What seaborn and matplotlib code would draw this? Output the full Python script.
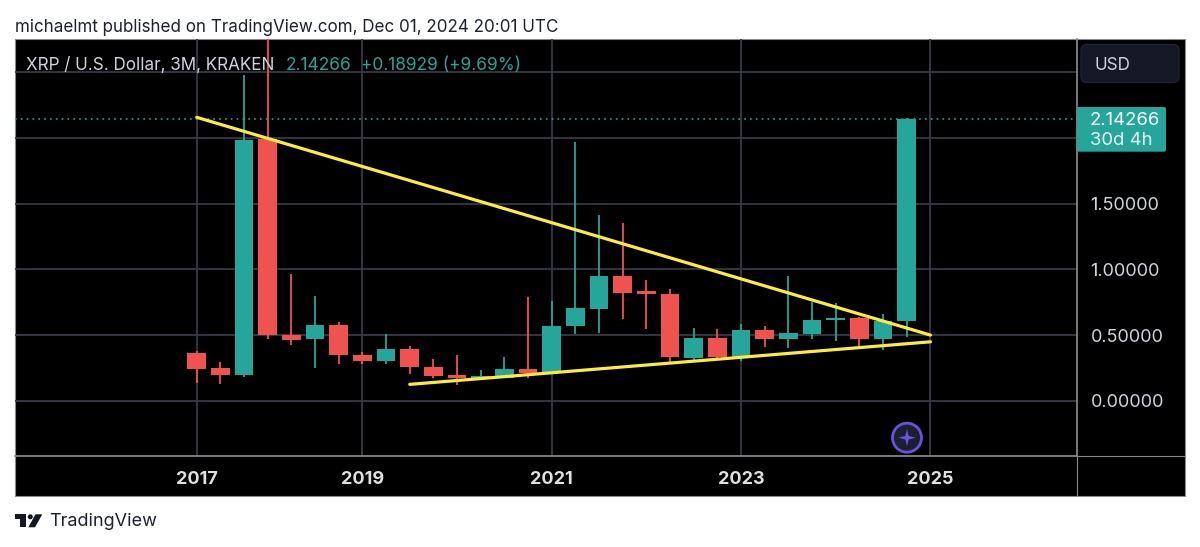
import numpy as np
import pandas as pd
import matplotlib
matplotlib.use("Agg")
import matplotlib.pyplot as plt
import seaborn as sns
from matplotlib.patches import Rectangle, FancyBboxPatch, Circle, Polygon

# candles, one per quarter-ish slot on TradingView's index axis
opens = [0.360, 0.249, 0.198, 1.989, 0.497, 0.467, 0.578, 0.345, 0.304, 0.391, 0.256,
         0.193, 0.175, 0.175, 0.241, 0.222, 0.568, 0.700, 0.951, 0.832, 0.812,
         0.327, 0.477, 0.337, 0.538, 0.469, 0.512, 0.614, 0.629, 0.472, 0.609]
closes = [0.244, 0.198, 1.984, 0.497, 0.464, 0.578, 0.345, 0.304, 0.391, 0.254, 0.190,
          0.170, 0.190, 0.241, 0.213, 0.568, 0.703, 0.951, 0.824, 0.812, 0.330,
          0.479, 0.335, 0.538, 0.469, 0.515, 0.616, 0.629, 0.472, 0.611, 2.14266]
highs = [0.380, 0.299, 2.478, 3.310, 0.964, 0.799, 0.601, 0.375, 0.510, 0.416, 0.315,
         0.348, 0.238, 0.330, 0.789, 0.761, 1.966, 1.413, 1.350, 0.916, 0.850,
         0.556, 0.550, 0.583, 0.566, 0.949, 0.753, 0.741, 0.639, 0.662, 2.150]
lows = [0.132, 0.127, 0.183, 0.474, 0.426, 0.246, 0.279, 0.279, 0.279, 0.205, 0.172,
        0.117, 0.165, 0.170, 0.172, 0.210, 0.507, 0.517, 0.622, 0.550, 0.299,
        0.312, 0.322, 0.302, 0.408, 0.398, 0.472, 0.454, 0.391, 0.386, 0.487]

year_pos = [0, 7, 15, 23, 31]
year_labels = ["2017", "2019", "2021", "2023", "2025"]
price_ticks = [0.0, 0.5, 1.0, 1.5, 2.0, 2.5]
price_labels = ["0.00000", "0.50000", "1.00000", "1.50000", "", ""]
last_price = 2.14266

upper_x = [0, 31]
upper_y = [2.157, 0.500]
lower_x = [9, 31]
lower_y = [0.125, 0.449]

GREEN = "#26a69a"
RED = "#ef5350"
YELLOW = "#ffeb3b"
GRID = "#363a45"
FRAME = "#8a8a8a"
TEXT = "#d1d4dc"

sns.set_theme(style="white")
plt.rcParams["font.family"] = ["Inter", "DejaVu Sans"]

df = pd.DataFrame({"open": opens, "close": closes, "high": highs, "low": lows})
df["idx"] = np.arange(len(df))
df["up"] = df["close"] >= df["open"]
df["bottom"] = df[["open", "close"]].min(axis=1)
df["height"] = (df["close"] - df["open"]).abs()

W, H = 1200, 547
fig = plt.figure(figsize=(W / 100, H / 100), dpi=100, facecolor="white")

# page layer in pixel coords, for panel frame and badges
bg = fig.add_axes([0, 0, 1, 1], zorder=0)
bg.set_xlim(0, W)
bg.set_ylim(H, 0)
bg.axis("off")
bg.add_patch(Rectangle((15, 39), 1170, 457, fc="black", ec=FRAME, lw=0.8))

ax = fig.add_axes([15 / W, 1 - 456 / H, (1076.7 - 15) / W, (456 - 39) / H], zorder=1)
ax.set_facecolor("none")
ax.grid(True, color=GRID, lw=1.3)
ax.set_axisbelow(True)

for flag, col in [(True, GREEN), (False, RED)]:
    sub = df[df["up"] == flag]
    ax.vlines(sub["idx"], sub["low"], sub["high"], color=col, lw=1.3, zorder=2)
    sns.barplot(data=sub, x="idx", y="height", bottom=sub["bottom"].values, native_scale=True,
                color=col, saturation=1, width=0.79, errorbar=None, ax=ax, zorder=3, linewidth=0)

ax.axhline(last_price, color=GREEN, lw=1.2, ls=(0, (1, 2.5)), zorder=2)
sns.lineplot(x=upper_x, y=upper_y, color=YELLOW, lw=2.3, ax=ax, zorder=4, errorbar=None)
sns.lineplot(x=lower_x, y=lower_y, color=YELLOW, lw=2.3, ax=ax, zorder=4, errorbar=None)

ax.set_xlim(-7.68, 37.18)
ax.set_ylim(-0.42, 2.753)
ax.set_xticks(year_pos, year_labels, color="#e0e0e0", fontsize=13, fontweight="bold")
ax.set_yticks(price_ticks, price_labels, color=TEXT, fontsize=13)
ax.yaxis.tick_right()
ax.tick_params(axis="x", length=0, pad=11)
ax.tick_params(axis="y", length=0, pad=10)
ax.set_xlabel("")
ax.set_ylabel("")
for s in ax.spines.values():
    s.set_visible(False)
ax.spines["right"].set_visible(True)
ax.spines["right"].set_color(FRAME)
ax.spines["bottom"].set_visible(True)
ax.spines["bottom"].set_color(FRAME)

# overlay in pixel coords
top = fig.add_axes([0, 0, 1, 1], zorder=2)
top.set_xlim(0, W)
top.set_ylim(H, 0)
top.axis("off")
top.plot([1076.7, 1076.7], [456, 496], color=FRAME, lw=0.8)
top.plot([1076.7, 1185], [456, 456], color=FRAME, lw=0.8)

top.text(15, 27, "michaelmt published on TradingView.com, Dec 01, 2024 20:01 UTC",
         color="#1e222d", fontsize=12.25, va="center")
top.text(26, 65.5, "XRP / U.S. Dollar, 3M, KRAKEN", color=TEXT, fontsize=12.3, va="center")
top.text(286, 65.5, "2.14266", color=GREEN, fontsize=12.5, va="center")
top.text(361, 65.5, "+0.18929 (+9.69%)", color=GREEN, fontsize=12.45, va="center")

top.add_patch(FancyBboxPatch((1084, 47.5), 92, 32, boxstyle="round,pad=3,rounding_size=6",
                             fc="#141824", ec="#1f2330", lw=1))
top.text(1095, 65, "USD", color=TEXT, fontsize=12.3, va="center")

top.add_patch(FancyBboxPatch((1077, 107), 89, 44.7, boxstyle="round,pad=0,rounding_size=2",
                             fc=GREEN, ec="none"))
top.text(1090, 120.5, "2.14266", color="white", fontsize=13.3, va="center")
top.text(1090, 140.5, "30d 4h", color="#e8f5f3", fontsize=13.3, va="center")

# star button
cx, cy = 907, 437.7
top.add_patch(Circle((cx, cy), 14.5, fc="#1c1f2e", ec="#6a4fe0", lw=2))
star = []
for k in range(8):
    r = 8.5 if k % 2 == 0 else 2.4
    a = k * np.pi / 4
    star.append((cx + r * np.sin(a), cy - r * np.cos(a)))
top.add_patch(Polygon(star, closed=True, fc="#6f52ee", ec="none"))

# TradingView logo
logo = "#131722"
top.add_patch(Polygon([(15, 514.3), (26, 514.3), (26, 527.3), (20, 527.3), (20, 519.3), (15, 519.3)],
                      closed=True, fc=logo, ec="none"))
top.add_patch(Circle((30.3, 516.8), 2.5, fc=logo, ec="none"))
top.add_patch(Polygon([(35.5, 514.3), (42.3, 514.3), (35, 527.3), (28.3, 527.3)],
                      closed=True, fc=logo, ec="none"))
top.text(49, 522, "TradingView", color="#1e222d", fontsize=13, va="center")

fig.savefig("out.png", dpi=100)
